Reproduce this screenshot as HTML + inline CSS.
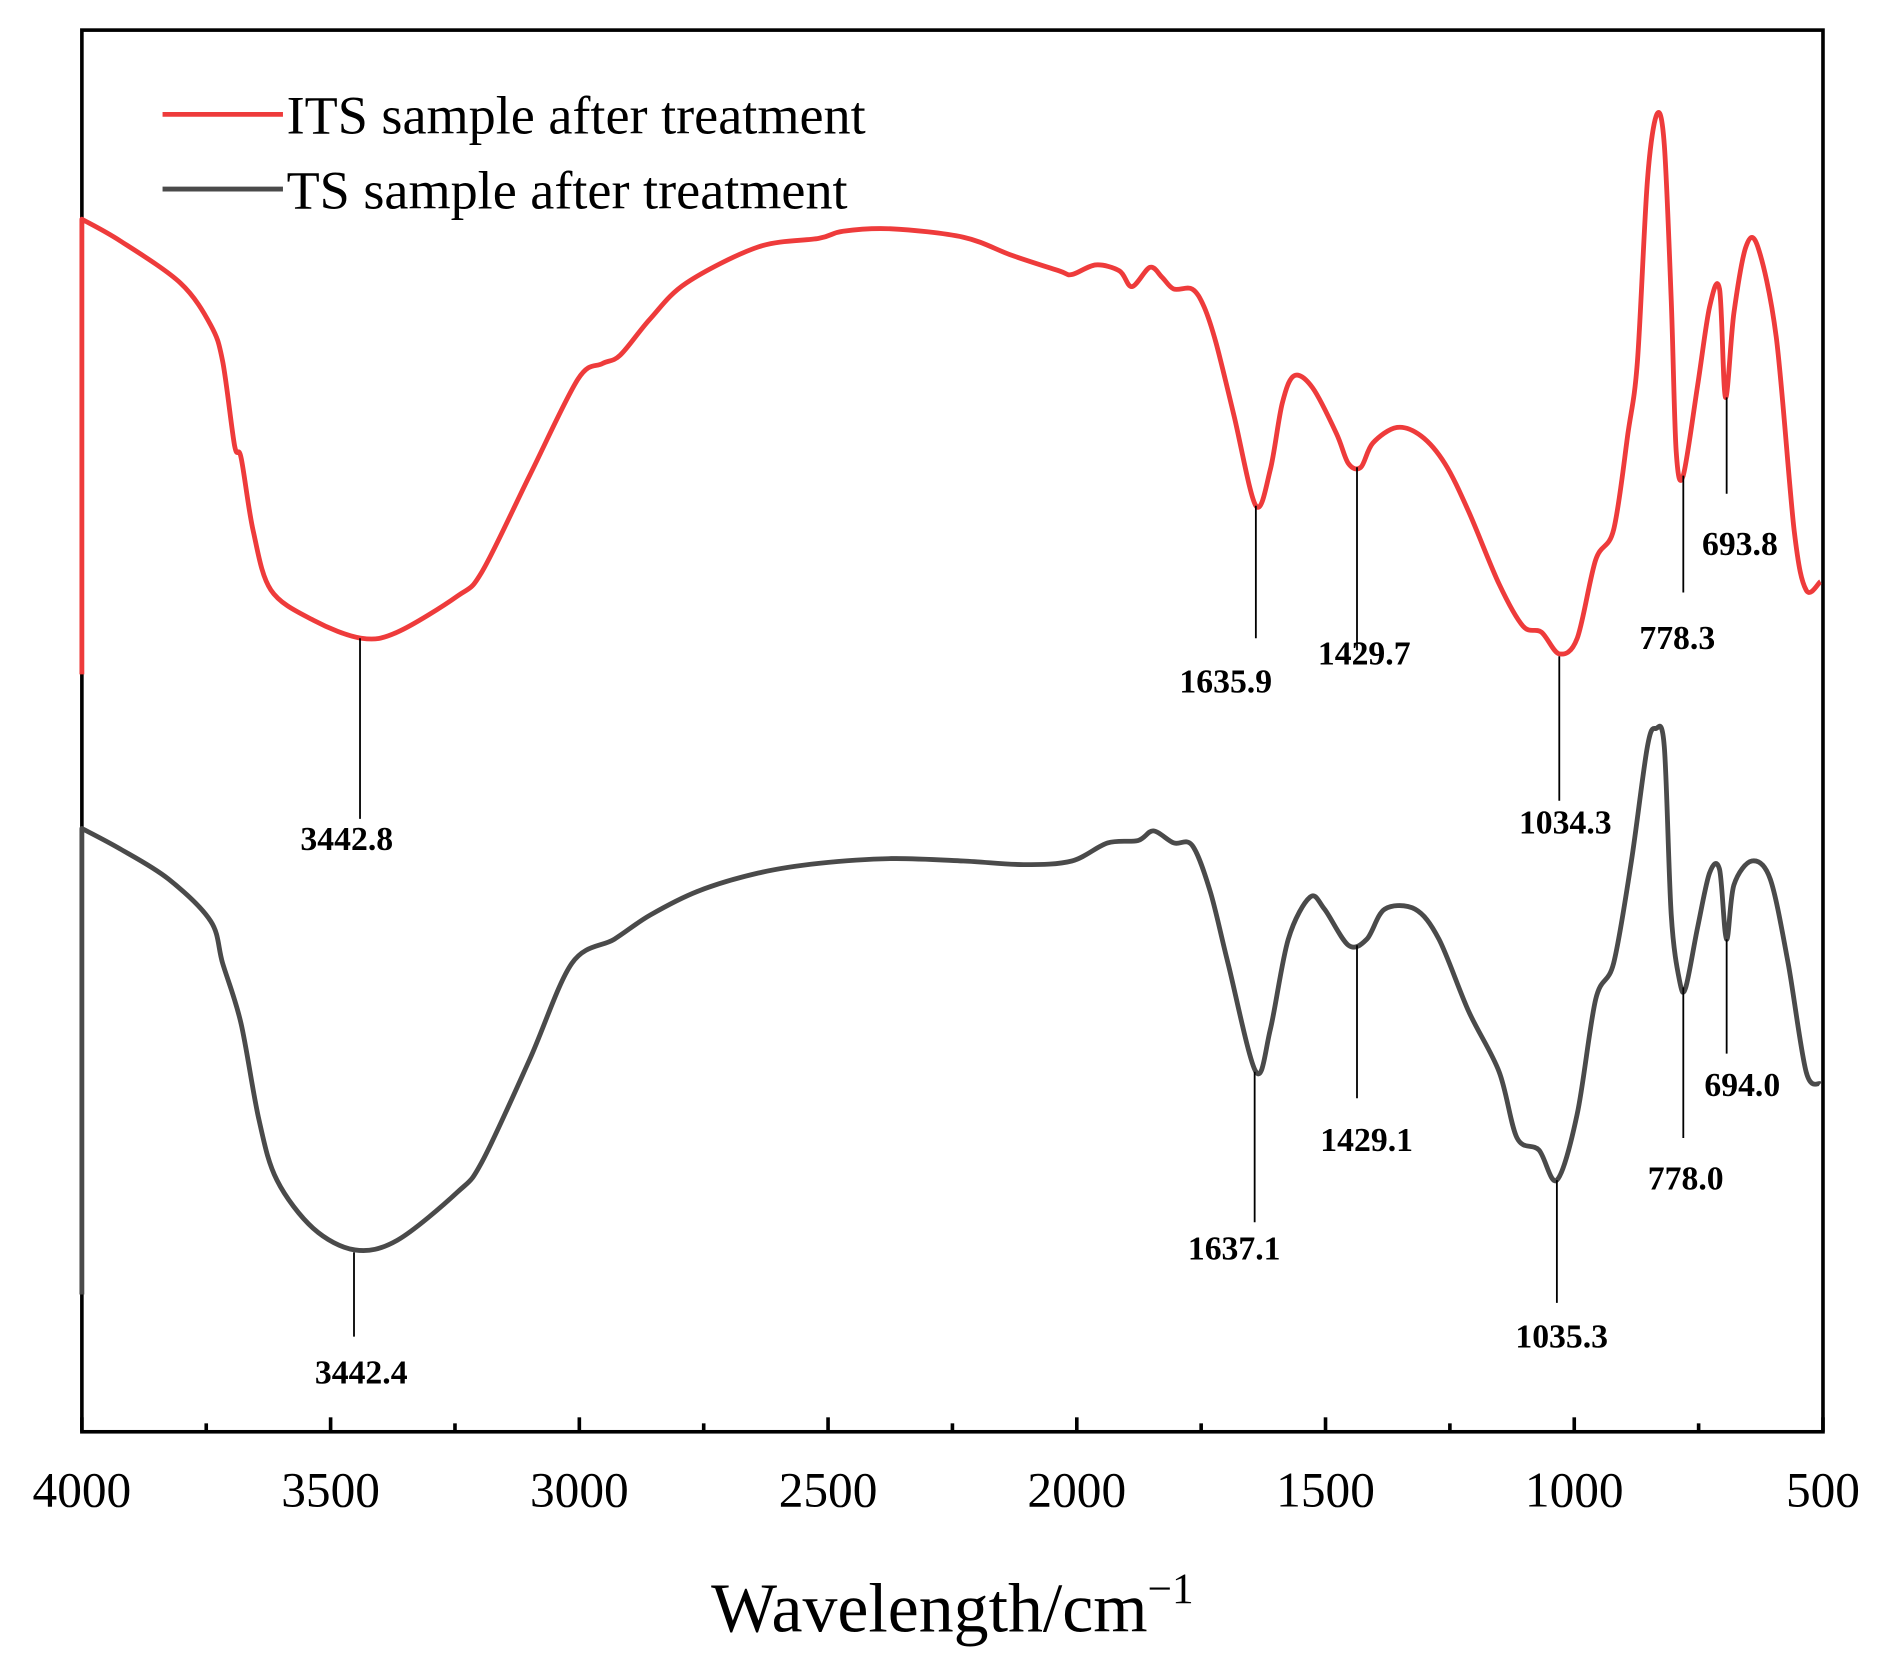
<!DOCTYPE html>
<html><head><meta charset="utf-8"><style>
html,body{margin:0;padding:0;background:#fff;}
svg{display:block;}
text{font-family:"Liberation Serif",serif;fill:#000;}
</style></head>
<body>
<svg id="chart" width="1888" height="1669" viewBox="0 0 1568 1386" preserveAspectRatio="none" xmlns="http://www.w3.org/2000/svg">
<g id="axes"></g>
<g id="series"></g>
<g id="ann"></g>
<g>
<line x1="135" y1="95" x2="235" y2="95" stroke="#ee3b3b" stroke-width="4"/>
<text x="238" y="111" font-size="45">ITS sample after treatment</text>
<line x1="135" y1="157" x2="235" y2="157" stroke="#4a4a4a" stroke-width="4"/>
<text x="238" y="173" font-size="45">TS sample after treatment</text>
</g>
<text x="791" y="1355" font-size="58" text-anchor="middle">Wavelength/cm<tspan font-size="36" dy="-24">−1</tspan></text>
</svg>
<script>
const redWn=[4000,4000,3923,3802,3741,3717,3693,3680,3656,3620,3535,3438,3366,3245,3196,3100,3003,2954,2918,2858,2785,2640,2519,2470,2373,2228,2131,2035,2010,1962,1914,1889,1853,1829,1805,1768,1744,1720,1684,1640,1611,1587,1563,1526,1478,1454,1429,1405,1357,1308,1260,1212,1151,1103,1066,1030,994,957,921,892,873,853,834,819,805,795,781,752,728,708,696,679,655,631,594,558,534,505];
const redVal=[640,1018,1000,965,930,900,830,820,760,710,685,670,675,705,725,805,885,898,905,935,965,995,1002,1008,1010,1003,988,975,972,980,975,962,978,970,960,960,945,915,855,780,810,865,888,878,840,815,812,832,845,838,815,775,715,680,675,657,670,735,760,840,900,1050,1105,1080,950,825,805,880,945,960,870,940,995,995,920,760,710,717];
const grayWn=[4000,4000,3923,3826,3741,3717,3680,3644,3608,3535,3451,3366,3245,3196,3100,3015,2930,2858,2761,2640,2519,2373,2228,2107,2010,1938,1877,1846,1805,1768,1732,1696,1640,1611,1575,1531,1502,1454,1417,1381,1320,1272,1212,1151,1115,1071,1035,994,957,921,885,853,836,819,805,788,776,752,728,708,694,679,643,606,570,534,505];
const grayVal=[125,512,495,470,435,400,350,270,220,180,162,170,210,235,320,400,420,440,460,475,483,487,485,482,485,500,502,510,500,498,460,400,310,345,420,455,445,415,420,445,445,420,360,310,255,245,220,275,370,400,485,580,595,580,440,385,380,430,475,478,420,465,485,470,400,310,300];
const xTicks=[4000,3500,3000,2500,2000,1500,1000,500];
const redPeaks=["3442.8","1635.9","1429.7","1034.3","778.3","693.8"];
const grayPeaks=["3442.4","1637.1","1429.1","1035.3","778.0","694.0"];
const L=68,R=1514,T=25,B=1189;
function xs(w){return L+(4000-w)/3500*(R-L);}
function ys(v){return 1200-v;}
const NS="http://www.w3.org/2000/svg";
function mk(t,a,p){const e=document.createElementNS(NS,t);for(const k in a)e.setAttribute(k,a[k]);p.appendChild(e);return e;}
const ax=document.getElementById('axes');
const frame=mk('rect',{x:L,y:T,width:R-L,height:B-T,fill:'none',stroke:'#000','stroke-width':3},ax);


xTicks.forEach((w,i)=>{
 const t=mk('line',{x1:xs(w),x2:xs(w),y1:B,y2:B-12,stroke:'#000','stroke-width':3},ax);
 
 
 if(i<xTicks.length-1){const m=w-250;const mt=mk('line',{x1:xs(m),x2:xs(m),y1:B,y2:B-7,stroke:'#000','stroke-width':3},ax);
 
 }
 const lb=mk('text',{x:xs(w),y:1251,'font-size':41,'text-anchor':'middle'},ax);lb.textContent=String(w);
 
 
});
const sg=document.getElementById('series');
function path(wn,val,col,name){
 const P=wn.map((w,i)=>[xs(w),ys(val[i])]);
 let d='M'+P[0][0].toFixed(1)+','+P[0][1].toFixed(1)+'L'+P[1][0].toFixed(1)+','+P[1][1].toFixed(1);
 for(let i=1;i<P.length-1;i++){
  const p0=P[Math.max(1,i-1)],p1=P[i],p2=P[i+1],p3=P[Math.min(P.length-1,i+2)];
  const k=0.16;
  const c1=[p1[0]+(p2[0]-p0[0])*k,p1[1]+(p2[1]-p0[1])*k];
  const c2=[p2[0]-(p3[0]-p1[0])*k,p2[1]-(p3[1]-p1[1])*k];
  d+='C'+c1[0].toFixed(1)+','+c1[1].toFixed(1)+' '+c2[0].toFixed(1)+','+c2[1].toFixed(1)+' '+p2[0].toFixed(1)+','+p2[1].toFixed(1);
 }
 const p=mk('path',{d:d,fill:'none',stroke:col,'stroke-width':4,'stroke-linejoin':'round'},sg);
 
 
}
path(redWn,redVal,'#ee3b3b','its-spectrum');
path(grayWn,grayVal,'#4a4a4a','ts-spectrum');
const an=document.getElementById('ann');
const redLines=[[299,530,680,288,697],[1043,420,530,1018,566],[1127,388,540,1133,543],[1295,545,665,1300,683],[1398,395,492,1393,530],[1434,330,410,1445,452]];
const grayLines=[[294,1040,1110,300,1140],[1042,890,1015,1025,1037],[1127,785,912,1135,947],[1293,980,1082,1297,1110],[1398,820,945,1400,979],[1434,780,875,1447,901]];
function ann(list,labels){list.forEach((a,i)=>{
 const l=mk('line',{x1:a[0],x2:a[0],y1:a[1],y2:a[2],stroke:'#000','stroke-width':1.5},an);
 
 
 const t=mk('text',{x:a[3],y:a[4]+9,'font-size':28,'font-weight':'bold','text-anchor':'middle'},an);t.textContent=labels[i];
 
 
});}
ann(redLines,redPeaks);ann(grayLines,grayPeaks);
</script>
</body></html>
